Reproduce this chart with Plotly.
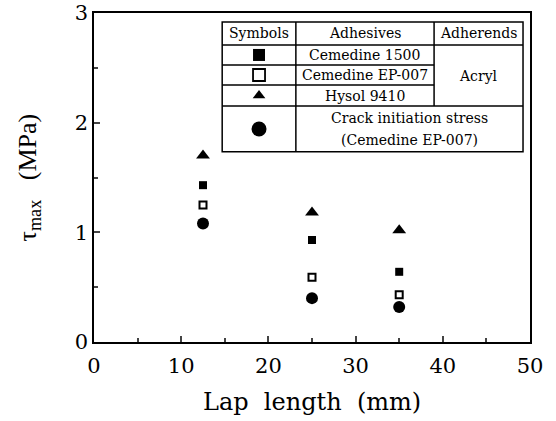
import plotly.graph_objects as go

lap_length = [12.5, 25, 35]
cemedine_1500 = [1.43, 0.93, 0.64]
cemedine_ep007 = [1.25, 0.59, 0.43]
hysol_9410 = [1.70, 1.18, 1.02]
crack_initiation = [1.08, 0.40, 0.32]

x_ticks = [0, 10, 20, 30, 40, 50]
y_ticks = [0, 1, 2, 3]

FONT = "DejaVu Serif"

fig = go.Figure()
fig.add_trace(go.Scatter(x=lap_length, y=hysol_9410, mode="markers",
                         marker=dict(symbol="triangle-up", size=12, color="black"), name="Hysol 9410"))
fig.add_trace(go.Scatter(x=lap_length, y=cemedine_1500, mode="markers",
                         marker=dict(symbol="square", size=8, color="black"), name="Cemedine 1500"))
fig.add_trace(go.Scatter(x=lap_length, y=cemedine_ep007, mode="markers",
                         marker=dict(symbol="square-open", size=7, color="black", line=dict(width=2)),
                         name="Cemedine EP-007"))
fig.add_trace(go.Scatter(x=lap_length, y=crack_initiation, mode="markers",
                         marker=dict(symbol="circle", size=12, color="black"), name="Crack initiation"))

# legend table (paper coordinates)
L, C1, C2, R = 0.294, 0.463, 0.780, 0.984
T, H, R1, R2, R3, B = 0.973, 0.903, 0.842, 0.781, 0.717, 0.578
line = dict(color="black", width=1.5)
shapes = [
    dict(type="rect", xref="paper", yref="paper", x0=L, x1=R, y0=B, y1=T, line=line),
    dict(type="line", xref="paper", yref="paper", x0=C1, x1=C1, y0=B, y1=T, line=line),
    dict(type="line", xref="paper", yref="paper", x0=C2, x1=C2, y0=R3, y1=T, line=line),
    dict(type="line", xref="paper", yref="paper", x0=L, x1=R, y0=H, y1=H, line=line),
    dict(type="line", xref="paper", yref="paper", x0=L, x1=C2, y0=R1, y1=R1, line=line),
    dict(type="line", xref="paper", yref="paper", x0=L, x1=C2, y0=R2, y1=R2, line=line),
    dict(type="line", xref="paper", yref="paper", x0=L, x1=R, y0=R3, y1=R3, line=line),
]
tf = dict(family=FONT, size=14, color="black")
def txt(x, y, s):
    return dict(xref="paper", yref="paper", x=x, y=y, text=s, showarrow=False, font=tf,
                xanchor="center", yanchor="middle")
annotations = [
    txt((L + C1) / 2, (T + H) / 2, "Symbols"),
    txt((C1 + C2) / 2, (T + H) / 2, "Adhesives"),
    txt((C2 + R) / 2, (T + H) / 2, "Adherends"),
    txt((C1 + C2) / 2, (H + R1) / 2, "Cemedine 1500"),
    txt((C1 + C2) / 2, (R1 + R2) / 2, "Cemedine EP-007"),
    txt((C1 + C2) / 2, (R2 + R3) / 2, "Hysol 9410"),
    txt((C2 + R) / 2, (H + R3) / 2, "Acryl"),
    txt((C1 + R) / 2, R3 - (R3 - B) * 0.27, "Crack initiation stress"),
    txt((C1 + R) / 2, R3 - (R3 - B) * 0.75, "(Cemedine EP-007)"),
    # axis titles
    dict(xref="paper", yref="paper", x=0.5, y=0, yshift=-60, text="Lap  length  (mm)",
         showarrow=False, font=dict(family=FONT, size=24, color="black"),
         xanchor="center", yanchor="middle"),
    dict(xref="paper", yref="paper", x=0, y=0.5, xshift=-66, text="τ<sub>max</sub>&nbsp;&nbsp;&nbsp;(MPa)",
         showarrow=False, textangle=-90, font=dict(family="Liberation Serif", size=26, color="black"),
         xanchor="center", yanchor="middle"),
]

# legend keys on an overlay axis spanning the plot area
kx = (L + C1) / 2
key_y = [(H + R1) / 2, (R1 + R2) / 2, (R2 + R3) / 2, (R3 + B) / 2]
key_sym = ["square", "square-open", "triangle-up", "circle"]
key_size = [12, 12, 11, 15]
for yy, sym, sz in zip(key_y, key_sym, key_size):
    fig.add_trace(go.Scatter(x=[kx], y=[yy], mode="markers", xaxis="x2", yaxis="y2", showlegend=False,
                             marker=dict(symbol=sym, size=sz, color="black", opacity=1,
                                         line=dict(width=1.8 if "open" in sym else 0, color="black"))))

fig.update_layout(
    width=556, height=421,
    margin=dict(l=94, r=26, t=13, b=79),
    paper_bgcolor="white", plot_bgcolor="white",
    showlegend=False,
    font=dict(family=FONT, color="black"),
    shapes=shapes, annotations=annotations,
    xaxis=dict(range=[0, 50], tickvals=x_ticks, ticks="inside", ticklen=6, tickwidth=1.5,
               minor=dict(dtick=5, ticks="inside", ticklen=4, tickwidth=1.5),
               showline=True, linecolor="black", linewidth=1.5, mirror=True,
               showgrid=False, zeroline=False, tickfont=dict(size=21), automargin=False,
               ticklabelstandoff=4),
    yaxis=dict(range=[0, 3], tickvals=y_ticks, ticks="inside", ticklen=6, tickwidth=1.5,
               minor=dict(dtick=0.5, ticks="inside", ticklen=4, tickwidth=1.5),
               showline=True, linecolor="black", linewidth=1.5, mirror=True,
               showgrid=False, zeroline=False, tickfont=dict(size=21), automargin=False),
    xaxis2=dict(range=[0, 1], overlaying="x", visible=False, fixedrange=True),
    yaxis2=dict(range=[0, 1], overlaying="y", visible=False, fixedrange=True),
)

fig.write_html("out.html", config={"displayModeBar": False},
               post_script="document.body.style.margin='0';")
